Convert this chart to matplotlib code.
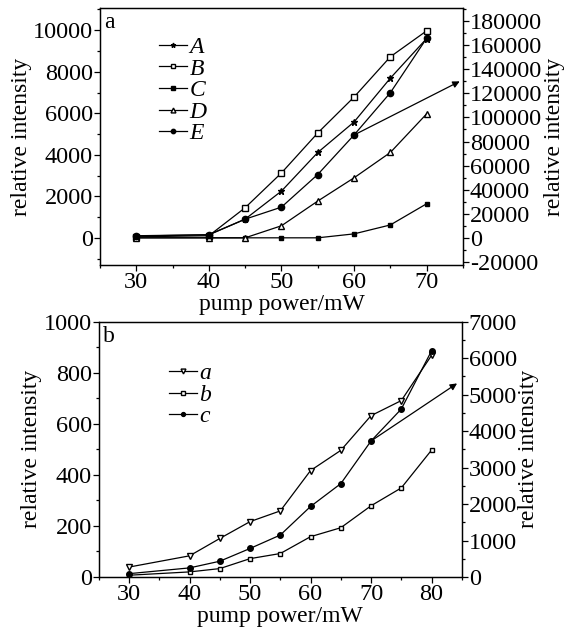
import numpy as np
import matplotlib
matplotlib.use("Agg")
import matplotlib.pyplot as plt
from matplotlib.ticker import MultipleLocator

plt.rcParams['font.family'] = 'serif'
plt.rcParams['font.serif'] = ['Liberation Serif', 'Times New Roman', 'DejaVu Serif']
plt.rcParams['font.size'] = 17
plt.rcParams['axes.unicode_minus'] = False

# panel a data
power_a = [30, 40, 45, 50, 55, 60, 65, 70]
A = [100, 150, 900, 2250, 4110, 5580, 7690, 9600]
B = [50, 100, 1450, 3125, 5050, 6780, 8720, 9970]
C = [0, 0, 0, 0, 0, 190, 620, 1640]
D = [0, 0, 0, 580, 1770, 2890, 4110, 5970]
E = [1500, 2500, 15500, 25500, 52600, 85400, 120500, 165700]   # right axis

# panel b data
power_b = [30, 40, 45, 50, 55, 60, 65, 70, 75, 80]
a = [39, 83, 151, 217, 259, 417, 496, 632, 691, 868]
b = [7, 20, 33, 72, 92, 158, 193, 279, 349, 497]
c = [92, 250, 433, 783, 1151, 1934, 2560, 3730, 4605, 6200]   # right axis

fig = plt.figure(figsize=(5.68, 6.32), dpi=100)
ax1 = fig.add_axes([0.176, 0.581, 0.639, 0.406])
ax2 = fig.add_axes([0.174, 0.087, 0.639, 0.404])

kw = dict(color='black', lw=0.9)

# ---- panel a
r1 = ax1.twinx()
hA, = ax1.plot(power_a, A, marker='*', ms=5, mfc='black', mec='black', **kw)
hB, = ax1.plot(power_a, B, marker='s', ms=4, mfc='white', mec='black', **kw)
hC, = ax1.plot(power_a, C, marker='s', ms=3.5, mfc='black', mec='black', **kw)
hD, = ax1.plot(power_a, D, marker='^', ms=5, mfc='white', mec='black', **kw)
hE, = r1.plot(power_a, E, marker='o', ms=4.5, mfc='black', mec='black', **kw)
r1.annotate('', xy=(74.9, 131000), xytext=(60, 85400),
            arrowprops=dict(arrowstyle='-|>', color='black', lw=0.9, mutation_scale=10))

ax1.set_xlim(25, 75)
ax1.set_ylim(-1300, 11060)
r1.set_ylim(-22400, 190700)
ax1.xaxis.set_major_locator(MultipleLocator(10))
ax1.xaxis.set_minor_locator(MultipleLocator(5))
ax1.yaxis.set_major_locator(MultipleLocator(2000))
ax1.yaxis.set_minor_locator(MultipleLocator(1000))
r1.yaxis.set_major_locator(MultipleLocator(20000))
r1.yaxis.set_minor_locator(MultipleLocator(10000))
ax1.set_xlabel('pump power/mW', labelpad=1)
ax1.set_ylabel('relative intensity', labelpad=1)
r1.set_ylabel('relative intensity', labelpad=1)
ax1.text(0.012, 0.985, 'a', transform=ax1.transAxes, va='top', ha='left')
ax1.legend([hA, hB, hC, hD, hE], ['A', 'B', 'C', 'D', 'E'],
           loc='upper left', bbox_to_anchor=(0.13, 0.935), frameon=False,
           handlelength=1.2, handletextpad=0.1, labelspacing=0.0,
           borderpad=0, markerscale=0.7, prop={'style': 'italic', 'size': 17})

# ---- panel b
r2 = ax2.twinx()
ha, = ax2.plot(power_b, a, marker='v', ms=5, mfc='white', mec='black', **kw)
hb, = ax2.plot(power_b, b, marker='s', ms=3.5, mfc='white', mec='black', **kw)
hc, = r2.plot(power_b, c, marker='o', ms=4, mfc='black', mec='black', **kw)
r2.annotate('', xy=(84.6, 5350), xytext=(70, 3730),
            arrowprops=dict(arrowstyle='-|>', color='black', lw=0.9, mutation_scale=10))

ax2.set_xlim(25, 85)
ax2.set_ylim(0, 1000)
r2.set_ylim(0, 7000)
ax2.xaxis.set_major_locator(MultipleLocator(10))
ax2.xaxis.set_minor_locator(MultipleLocator(5))
ax2.yaxis.set_major_locator(MultipleLocator(200))
ax2.yaxis.set_minor_locator(MultipleLocator(100))
r2.yaxis.set_major_locator(MultipleLocator(1000))
r2.yaxis.set_minor_locator(MultipleLocator(500))
ax2.set_xlabel('pump power/mW', labelpad=1)
ax2.set_ylabel('relative intensity', labelpad=1)
r2.set_ylabel('relative intensity', labelpad=1)
ax2.text(0.012, 0.985, 'b', transform=ax2.transAxes, va='top', ha='left')
ax2.legend([ha, hb, hc], ['a', 'b', 'c'],
           loc='upper left', bbox_to_anchor=(0.16, 0.885), frameon=False,
           handlelength=1.2, handletextpad=0.1, labelspacing=0.0,
           borderpad=0, markerscale=0.7, prop={'style': 'italic', 'size': 17})

for ax in (ax1, ax2, r1, r2):
    ax.tick_params(which='major', direction='out', length=4, width=0.9, pad=1,
                   labelsize=17.5)
    ax.tick_params(which='minor', direction='out', length=2.5, width=0.9)
    for s in ax.spines.values():
        s.set_linewidth(0.9)

fig.savefig('out.png', dpi=100)
